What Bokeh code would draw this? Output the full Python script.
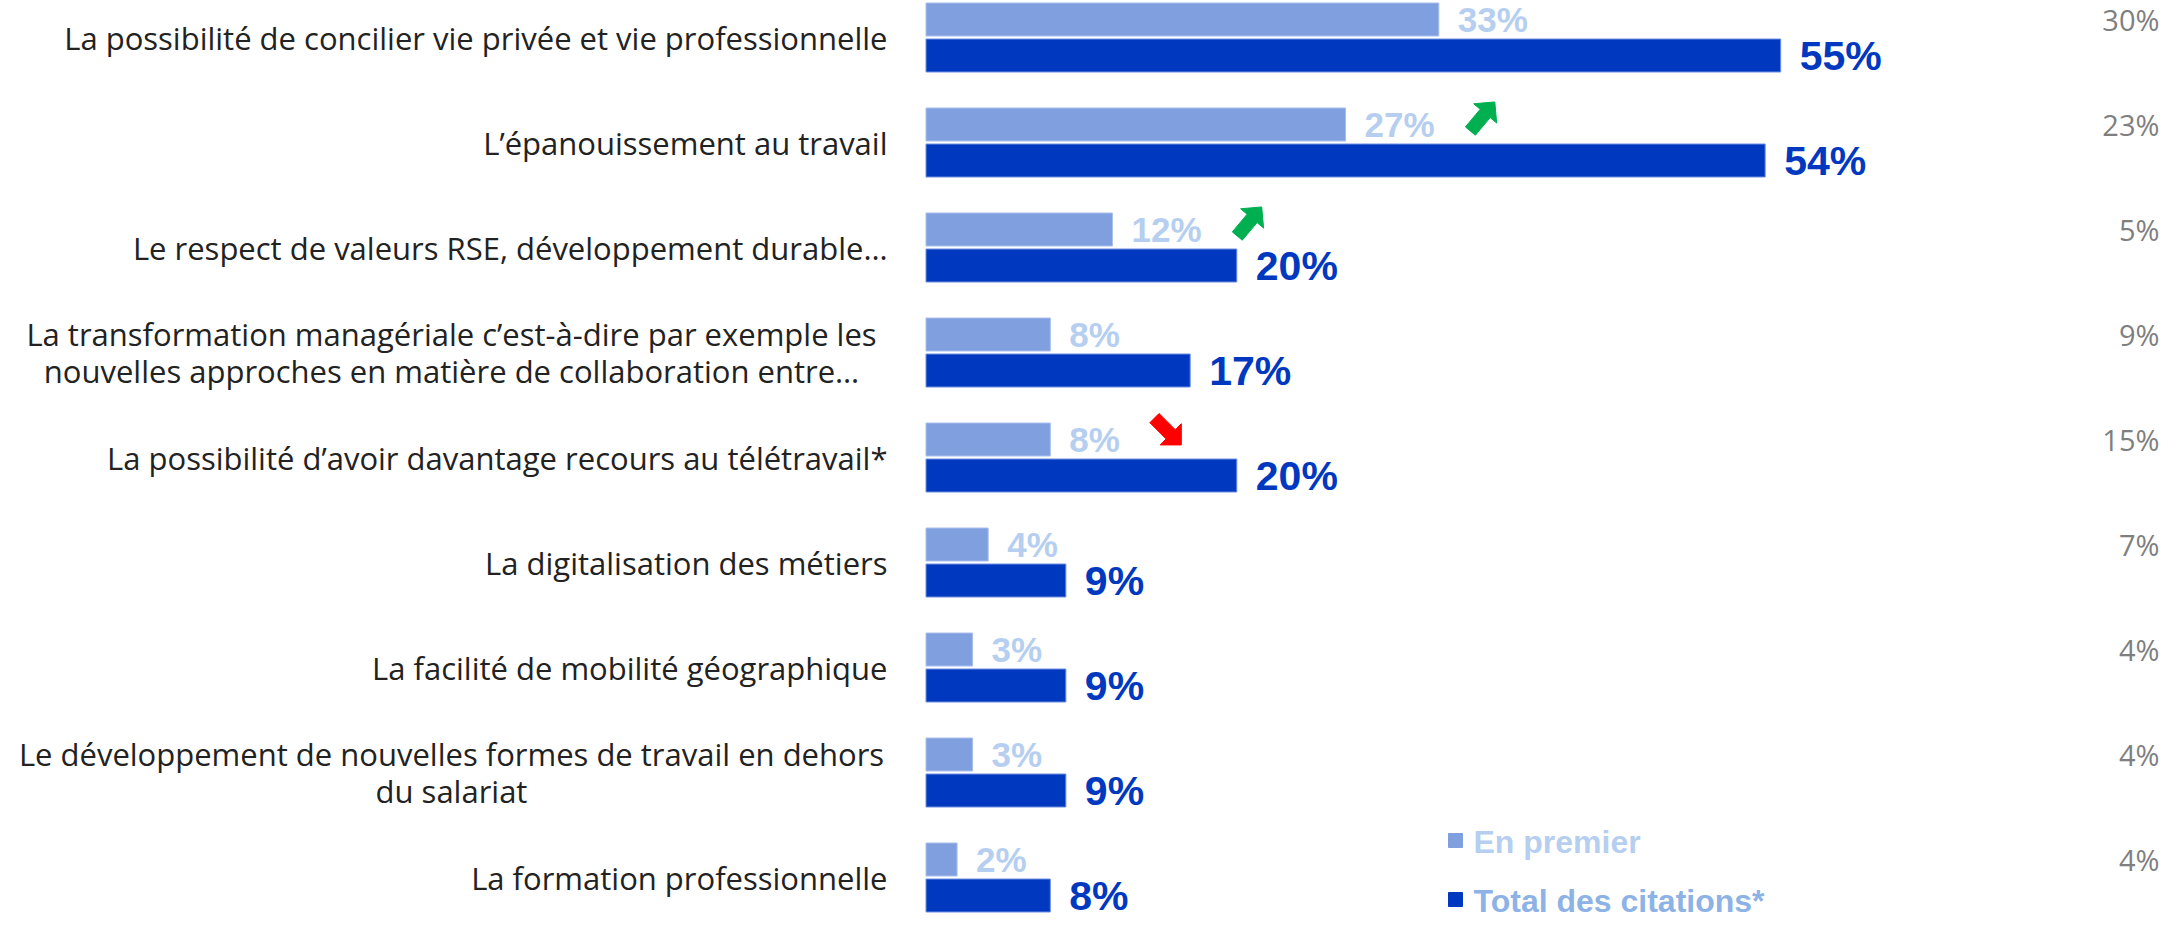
import math
from bokeh.plotting import figure
from bokeh.models import Range1d
from bokeh.core.properties import value
from bokeh.embed import file_html
from bokeh.resources import INLINE

# ---------------- data ----------------
categories = [
    "La possibilité de concilier vie privée et vie professionnelle",
    "L’épanouissement au travail",
    "Le respect de valeurs RSE, développement durable…",
    "La transformation managériale c’est-à-dire par exemple les\nnouvelles approches en matière de collaboration entre…",
    "La possibilité d’avoir davantage recours au télétravail*",
    "La digitalisation des métiers",
    "La facilité de mobilité géographique",
    "Le développement de nouvelles formes de travail en dehors\ndu salariat",
    "La formation professionnelle",
]
en_premier = [33, 27, 12, 8, 8, 4, 3, 3, 2]
total_citations = [55, 54, 20, 17, 20, 9, 9, 9, 8]
previous_wave = [30, 23, 5, 9, 15, 7, 4, 4, 4]
trend_rows = [1, 2, 4]
trend_dirs = ["up", "up", "down"]
series_names = ["En premier", "Total des citations*"]

# ---------------- style / layout ----------------
W, H = 2161, 922
PX_PER_PCT = 15.54
X0_PX = 925.5
ROW_PITCH = 105.0
ROW0_PX = 37.0
BAR_PX = 33
OFF_PX = 18

LIGHT = "#809FDF"
DARK = "#0039C0"
LIGHT_TXT = "#B6CFF0"
LEGEND2_TXT = "#8DB3E6"
GREY = "#7F7F7F"
GREEN = "#00B050"
RED = "#FF0000"
LABEL_COLOR = "#222222"


def dx(px):
    return (px - X0_PX) / PX_PER_PCT


def dy(py):
    return (py - ROW0_PX) / ROW_PITCH


rows = list(range(len(categories)))
off = OFF_PX / ROW_PITCH
bar_h = BAR_PX / ROW_PITCH
y_light = [r - off for r in rows]
y_dark = [r + off for r in rows]

p = figure(
    width=W, height=H,
    x_range=Range1d(dx(0), dx(W)),
    y_range=Range1d(start=dy(H), end=dy(0)),
    output_backend="svg", toolbar_location=None,
    x_axis_location=None, y_axis_location=None,
    min_border=0,
)
p.grid.visible = False
p.outline_line_color = None
p.background_fill_color = "white"
p.border_fill_color = "white"

# bars
p.hbar(y=y_light, left=0, right=en_premier, height=bar_h,
       fill_color=LIGHT, line_color="#A8BFEE", line_width=1)
p.hbar(y=y_dark, left=0, right=total_citations, height=bar_h,
       fill_color=DARK, line_color="#6F8FE0", line_width=1)

# value labels
p.text(x=en_premier, y=y_light, text=[f"{v}%" for v in en_premier],
       x_offset=19, text_align="left", text_baseline="middle",
       text_font=value("Liberation Sans"), text_font_style="bold",
       text_font_size="35px", text_color=LIGHT_TXT)
p.text(x=total_citations, y=y_dark, text=[f"{v}%" for v in total_citations],
       x_offset=19, text_align="left", text_baseline="middle",
       text_font=value("Liberation Sans"), text_font_style="bold",
       text_font_size="41px", text_color=DARK)

# category labels
single = [(c, r) for c, r in zip(categories, rows) if "\n" not in c]
multi = [(c, r) for c, r in zip(categories, rows) if "\n" in c]
p.text(x=[dx(887)] * len(single), y=[r for _, r in single], text=[c for c, _ in single],
       text_align="right", text_baseline="middle",
       text_font=value("Open Sans"), text_font_size="31px", text_color=LABEL_COLOR)
p.text(x=[dx(451)] * len(multi), y=[r for _, r in multi], text=[c for c, _ in multi],
       text_align="center", text_baseline="middle", text_line_height=0.9,
       text_font=value("Open Sans"), text_font_size="31px", text_color=LABEL_COLOR)

# previous-wave values on the right
p.text(x=[dx(W - 2)] * len(rows), y=y_light, text=[f"{v}%" for v in previous_wave],
       text_align="right", text_baseline="middle",
       text_font=value("Open Sans"), text_font_size="29px", text_color=GREY)

# trend arrows
L, HL, HW, SW = 38, 15, 15, 6.5
shape = [(-L / 2, -SW), (L / 2 - HL, -SW), (L / 2 - HL, -HW), (L / 2, 0),
         (L / 2 - HL, HW), (L / 2 - HL, SW), (-L / 2, SW)]
xs_list, ys_list, cols = [], [], []
for r, d in zip(trend_rows, trend_dirs):
    v = en_premier[r]
    lab_w = 35 * (0.556 * len(str(v)) + 0.889)
    cx = v + (19 + lab_w + 48) / PX_PER_PCT
    cy = r - 26 / ROW_PITCH
    a = math.radians(50 if d == "up" else -45)
    xs, ys = [], []
    for (sx, sy) in shape:
        rx = sx * math.cos(a) - sy * math.sin(a)
        ry = sx * math.sin(a) + sy * math.cos(a)
        xs.append(cx + rx / PX_PER_PCT)
        ys.append(cy - ry / ROW_PITCH)
    xs_list.append(xs)
    ys_list.append(ys)
    cols.append(GREEN if d == "up" else RED)
p.patches(xs=xs_list, ys=ys_list, fill_color=cols, line_color=cols, line_width=1)

# legend (manual, two label colours)
leg_y = [dy(840), dy(899)]
p.scatter(x=[dx(1455)] * 2, y=leg_y, marker="square", size=14,
          fill_color=[LIGHT, DARK], line_color=[LIGHT, DARK])
p.text(x=[dx(1473)] * 2, y=leg_y, text=series_names, y_offset=1,
       text_align="left", text_baseline="middle",
       text_font=value("Liberation Sans"), text_font_style="bold",
       text_font_size="32px", text_color=[LIGHT_TXT, LEGEND2_TXT])

open("out.html", "w").write(file_html(p, INLINE))
